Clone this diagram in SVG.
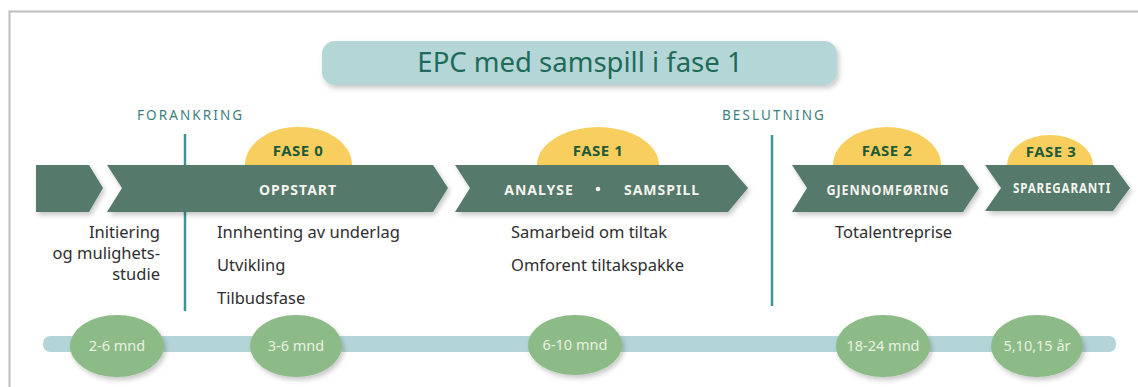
<svg xmlns="http://www.w3.org/2000/svg" width="1138" height="387" viewBox="0 0 1138 387">
<defs>
<filter id="sh" x="-10%" y="-20%" width="120%" height="160%">
<feDropShadow dx="2" dy="3" stdDeviation="2.5" flood-color="#000" flood-opacity="0.22"/>
</filter>
<style>
.chev{fill:#55796a;filter:url(#sh);}
.fase{fill:#f8cf5e;}
.faset{font-family:"Noto Sans","DejaVu Sans",sans-serif;font-weight:bold;font-size:15px;fill:#1d5a3a;text-anchor:middle;letter-spacing:0.5px;}
.ct{font-family:"Noto Sans","DejaVu Sans",sans-serif;font-weight:bold;font-size:14px;fill:#f4f4f0;text-anchor:middle;letter-spacing:1px;}
.body{font-family:"Noto Sans","DejaVu Sans",sans-serif;font-size:16.5px;fill:#2e2e2e;}
.mark{font-family:"Noto Sans","DejaVu Sans",sans-serif;font-size:13.5px;fill:#3d7f80;letter-spacing:2.1px;}
.vl{stroke:#3a9595;stroke-width:2.5;}
.dur{fill:#8dbb87;filter:url(#sh);}
.durt{font-family:"Noto Sans","DejaVu Sans",sans-serif;font-size:14.5px;fill:#e8f2e0;text-anchor:middle;}
</style>
</defs>
<rect x="0" y="0" width="1138" height="387" fill="#ffffff"/>
<path d="M9.5 387 V11.5 H1138" fill="none" stroke="#bdbdbd" stroke-width="2"/>

<g id="title">
<rect x="322" y="41" width="515" height="44" rx="13" fill="#b5d6d7" filter="url(#sh)"/>
<text x="580" y="72" font-family="Noto Sans, DejaVu Sans, sans-serif" font-size="27.5" fill="#1d6b58" text-anchor="middle">EPC med samspill i fase 1</text>
</g>

<g id="connectors">
<line class="vl" x1="185" y1="134" x2="185" y2="311"/>
<line class="vl" x1="772" y1="135" x2="772" y2="306"/>
<rect x="43" y="336" width="1073" height="16" rx="7" fill="#b4d5d7"/>
</g>

<g id="forankring"><text class="mark" x="137" y="120">FORANKRING</text></g>
<g id="beslutning"><text class="mark" x="722" y="120">BESLUTNING</text></g>

<g id="fase0">
<path class="fase" d="M245 165 A53 38 0 0 1 352 165 Z"/>
<text class="faset" x="298" y="156">FASE 0</text>
</g>
<g id="fase1">
<path class="fase" d="M537 165 A61 38 0 0 1 659 165 Z"/>
<text class="faset" x="598" y="156">FASE 1</text>
</g>
<g id="fase2">
<path class="fase" d="M833 165 A54 38 0 0 1 941 165 Z"/>
<text class="faset" x="887" y="156">FASE 2</text>
</g>
<g id="fase3">
<path class="fase" d="M1007 165 A43 30 0 0 1 1093 165 Z"/>
<text class="faset" x="1051" y="157" font-size="14">FASE 3</text>
</g>

<g id="initiering">
<path class="chev" d="M36 165 H89 L103 188 L89 212 H36 Z"/>
<text class="body" text-anchor="end"><tspan x="160" y="238">Initiering</tspan><tspan x="160" y="259">og mulighets-</tspan><tspan x="160" y="280">studie</tspan></text>
</g>

<g id="oppstart">
<path class="chev" d="M107 165 H433 L448 188 L433 212 H107 L122 188 Z"/>
<text class="ct" x="298" y="195">OPPSTART</text>
<text class="body"><tspan x="217" y="238">Innhenting av underlag</tspan><tspan x="217" y="271">Utvikling</tspan><tspan x="217" y="304">Tilbudsfase</tspan></text>
</g>

<g id="analyse">
<path class="chev" d="M455 165 H728 L748 188 L728 212 H455 L470 188 Z"/>
<text class="ct" x="539" y="195">ANALYSE</text>
<circle cx="598" cy="189" r="2.3" fill="#f4f4f0"/>
<text class="ct" x="662" y="195">SAMSPILL</text>
<text class="body"><tspan x="511" y="238">Samarbeid om tiltak</tspan><tspan x="511" y="271">Omforent tiltakspakke</tspan></text>
</g>

<g id="gjennomforing">
<path class="chev" d="M792 165 H963 L979 188 L963 212 H792 L807 188 Z"/>
<text class="ct" x="888" y="195" font-size="13" letter-spacing="0" textLength="123" lengthAdjust="spacingAndGlyphs">GJENNOMFØRING</text>
<text class="body" x="835" y="238">Totalentreprise</text>
</g>

<g id="sparegaranti">
<path class="chev" d="M985 165 H1113 L1130 188 L1113 211 H985 L1001 188 Z"/>
<text class="ct" x="1062" y="193" font-size="12.5" letter-spacing="0" textLength="98" lengthAdjust="spacingAndGlyphs">SPAREGARANTI</text>
</g>

<g id="d1"><ellipse class="dur" cx="117" cy="346" rx="47" ry="31"/><text class="durt" x="117" y="351">2-6 mnd</text></g>
<g id="d2"><ellipse class="dur" cx="296" cy="346" rx="46" ry="31"/><text class="durt" x="296" y="351">3-6 mnd</text></g>
<g id="d3"><ellipse class="dur" cx="575" cy="345" rx="47" ry="30"/><text class="durt" x="575" y="350">6-10 mnd</text></g>
<g id="d4"><ellipse class="dur" cx="883" cy="346" rx="47" ry="31"/><text class="durt" x="883" y="351">18-24 mnd</text></g>
<g id="d5"><ellipse class="dur" cx="1037" cy="346" rx="46" ry="31"/><text class="durt" x="1037" y="351">5,10,15 år</text></g>
</svg>
